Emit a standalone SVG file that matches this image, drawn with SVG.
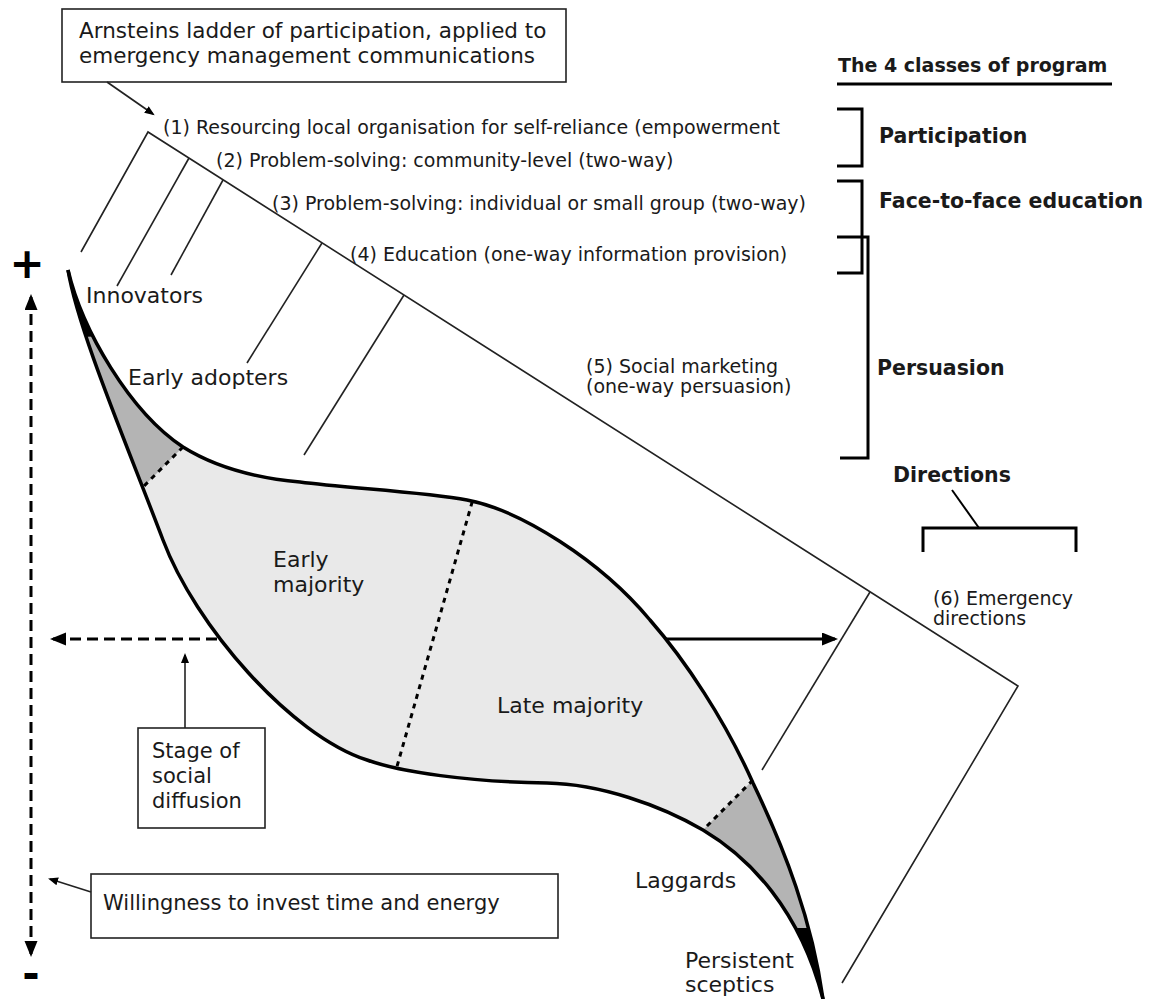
<svg xmlns="http://www.w3.org/2000/svg" width="1161" height="999" viewBox="0 0 1161 999">
  <style>
    text { font-family: "DejaVu Sans", Verdana, sans-serif; fill: #1a1a1a; }
    .title { font-size: 21.5px; }
    .rung { font-size: 19px; }
    .seg { font-size: 22px; }
    .box { font-size: 21px; }
    .head { font-size: 19px; font-weight: bold; }
    .cls { font-size: 20.5px; font-weight: bold; }
    .sign { font-size: 42px; font-weight: bold; fill: #000; }
    .frame { fill: #fff; stroke: #222; stroke-width: 1.6; }
    .thin { fill: none; stroke: #222; stroke-width: 1.6; }
    .bracket { fill: none; stroke: #000; stroke-width: 3; }
    .edge { fill: none; stroke: #000; stroke-width: 3.5; stroke-linejoin: round; }
    .divider { fill: none; stroke: #000; stroke-width: 3; stroke-dasharray: 5 5; }
    .dash { fill: none; stroke: #000; stroke-width: 3; stroke-dasharray: 11 6; }
    .solid { fill: none; stroke: #000; stroke-width: 3; }
  </style>
  <defs>
    <marker id="headSmall" markerUnits="userSpaceOnUse" markerWidth="11" markerHeight="9" refX="8" refY="4" orient="auto">
      <path d="M0,0 L10,4 L0,8 z" fill="#000"/>
    </marker>
    <marker id="headBig" markerUnits="userSpaceOnUse" markerWidth="18" markerHeight="14" refX="13" refY="6.5" orient="auto-start-reverse">
      <path d="M0,0 L16,6.5 L0,13 z" fill="#000"/>
    </marker>
    <!-- diffusion band: upper edge forward, lower edge back -->
    <path id="bandShape" d="M68,270 C82,330 130,412 183,447 C215,467 255,478 300,482 C345,488 425,492 467,500 C520,510 600,560 650,620 C685,660 725,720 753,783 C785,850 812,920 823,999 L823,1005 L821,1005 L823,999 C800,910 750,858 703,830 C660,805 600,784 547,783 C470,782 400,772 367,760 C290,735 195,625 163,540 C125,440 78,330 68,270 Z"/>
    <clipPath id="bandClip">
      <use href="#bandShape"/>
    </clipPath>
  </defs>

  <!-- ladder frame and rungs -->
  <g id="ladder">
    <path class="thin" d="M81,252 L148,132 L1018,686 L842,983"/>
    <line class="thin" x1="189" y1="158" x2="117" y2="286"/>
    <line class="thin" x1="223" y1="180" x2="171" y2="275"/>
    <line class="thin" x1="322" y1="243" x2="247" y2="363"/>
    <line class="thin" x1="404" y1="295" x2="304" y2="455"/>
    <line class="thin" x1="870" y1="592" x2="762" y2="770"/>
  </g>

  <g id="rung-labels">
    <text class="rung" x="163" y="134">(1) Resourcing local organisation for self-reliance (empowerment</text>
    <text class="rung" x="216" y="167">(2) Problem-solving: community-level (two-way)</text>
    <text class="rung" x="272" y="210">(3) Problem-solving: individual or small group (two-way)</text>
    <text class="rung" x="350" y="261">(4) Education (one-way information provision)</text>
    <text class="rung" x="586" y="373">(5) Social marketing</text>
    <text class="rung" x="586" y="393">(one-way persuasion)</text>
    <text class="rung" x="933" y="605">(6) Emergency</text>
    <text class="rung" x="933" y="625">directions</text>
  </g>

  <!-- title box -->
  <g id="title">
    <rect class="frame" x="62" y="9" width="504" height="73"/>
    <text class="title" x="79" y="38">Arnsteins ladder of participation, applied to</text>
    <text class="title" x="79" y="63">emergency management communications</text>
  </g>

  <!-- program classes -->
  <g id="classes">
    <text class="head" x="838" y="72">The 4 classes of program</text>
    <line x1="837" y1="84" x2="1112" y2="84" stroke="#000" stroke-width="3"/>
  </g>
  <g id="participation">
    <path class="bracket" d="M837,109 H862 V166 H837"/>
    <text class="cls" x="879" y="143">Participation</text>
  </g>
  <g id="face-to-face">
    <path class="bracket" d="M837,181 H862 V273 H837"/>
    <text class="cls" x="879" y="208">Face-to-face education</text>
  </g>
  <g id="persuasion">
    <path class="bracket" d="M837,237 H868 V458 H840"/>
    <text class="cls" x="877" y="375">Persuasion</text>
  </g>
  <g id="directions">
    <text class="cls" x="893" y="482">Directions</text>
    <line x1="952" y1="490" x2="979" y2="528" stroke="#000" stroke-width="2"/>
    <path class="bracket" d="M923,552 V528 H1076 V552"/>
  </g>

  <!-- adopter categories band -->
  <g id="diffusion-band">
    <g clip-path="url(#bandClip)">
      <rect x="0" y="250" width="900" height="760" fill="#e9e9e9"/>
      <polygon points="0,0 630,0 0,630" fill="#b4b4b4"/>
      <polygon points="534,999 1161,372 1161,999" fill="#b4b4b4"/>
      <polygon points="0,0 300,0 300,331 0,339" fill="#000"/>
      <polygon points="700,928 900,928 900,1005 700,1005" fill="#000"/>
      <line class="divider" x1="130" y1="500" x2="195" y2="435"/>
      <line class="divider" x1="475" y1="492" x2="392" y2="784"/>
      <line class="divider" x1="760" y1="773" x2="695" y2="838"/>
    </g>
    <path class="edge" d="M68,270 C82,330 130,412 183,447 C215,467 255,478 300,482 C345,488 425,492 467,500 C520,510 600,560 650,620 C685,660 725,720 753,783 C785,850 812,920 823,999 L824,1005"/>
    <path class="edge" d="M68,270 C78,330 125,440 163,540 C195,625 290,735 367,760 C400,772 470,782 547,783 C600,784 660,805 703,830 C750,858 800,910 823,999 L824,1005"/>
  </g>

  <g id="segment-labels">
    <text class="seg" x="86" y="303">Innovators</text>
    <text class="seg" x="128" y="385">Early adopters</text>
    <text class="seg" x="273" y="567">Early</text>
    <text class="seg" x="273" y="592">majority</text>
    <text class="seg" x="497" y="713">Late majority</text>
    <text class="seg" x="635" y="888">Laggards</text>
    <text class="seg" x="685" y="968">Persistent</text>
    <text class="seg" x="685" y="992">sceptics</text>
  </g>

  <!-- willingness axis -->
  <g id="axis">
    <line class="dash" x1="31" y1="297" x2="31" y2="954" marker-start="url(#headBig)" marker-end="url(#headBig)"/>
    <text class="sign" x="27" y="278" text-anchor="middle">+</text>
    <text class="sign" x="31" y="988" text-anchor="middle">-</text>
  </g>

  <g id="stage-box">
    <rect class="frame" x="138" y="728" width="127" height="100"/>
    <text class="box" x="152" y="758">Stage of</text>
    <text class="box" x="152" y="783">social</text>
    <text class="box" x="152" y="808">diffusion</text>
  </g>

  <g id="willingness-box">
    <rect class="frame" x="91" y="874" width="467" height="64"/>
    <text class="box" x="103" y="910">Willingness to invest time and energy</text>
  </g>

  <!-- connectors -->
  <g id="connectors">
    <line class="thin" x1="107" y1="82" x2="153" y2="114" marker-end="url(#headSmall)"/>
    <line class="thin" x1="185" y1="728" x2="185" y2="655" marker-end="url(#headSmall)"/>
    <line class="thin" x1="91" y1="892" x2="50" y2="879" marker-end="url(#headSmall)"/>
    <line class="dash" x1="217" y1="639" x2="53" y2="639" marker-end="url(#headBig)"/>
    <line class="solid" x1="665" y1="639" x2="835" y2="639" marker-end="url(#headBig)"/>
  </g>
</svg>
